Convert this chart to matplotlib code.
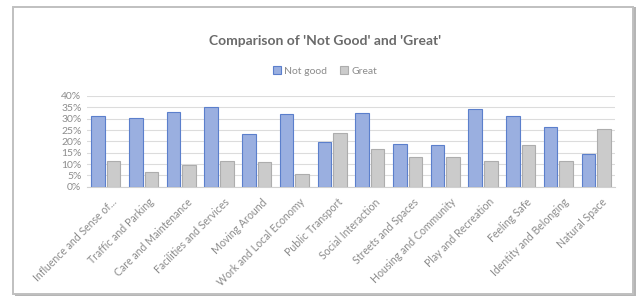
import numpy as np
import matplotlib
matplotlib.use("Agg")
import matplotlib.pyplot as plt
from matplotlib.patches import Rectangle
from matplotlib.transforms import ScaledTranslation

# data (fractions)
categories = ["Influence and Sense of...", "Traffic and Parking", "Care and Maintenance",
              "Facilities and Services", "Moving Around", "Work and Local Economy",
              "Public Transport", "Social Interaction", "Streets and Spaces",
              "Housing and Community", "Play and Recreation", "Feeling Safe",
              "Identity and Belonging", "Natural Space"]
not_good = [0.313, 0.303, 0.330, 0.351, 0.232, 0.319, 0.196, 0.325, 0.187,
            0.186, 0.344, 0.313, 0.263, 0.144]
great = [0.112, 0.066, 0.094, 0.112, 0.107, 0.057, 0.238, 0.165, 0.129,
         0.130, 0.112, 0.186, 0.112, 0.255]
yticks = [0, 0.05, 0.10, 0.15, 0.20, 0.25, 0.30, 0.35, 0.40]

plt.rcParams['font.family'] = ['Lato', 'DejaVu Sans']

fig = plt.figure(figsize=(6.39, 3.0), dpi=100)
W, H = 639, 300

# framed panel with a soft shadow
fig.patches.append(Rectangle((15 / W, 4 / H), 621 / W, 289 / H, transform=fig.transFigure,
                             facecolor="#B5B5B5", edgecolor="none", zorder=0))
fig.patches.append(Rectangle((13 / W, 6 / H), 620 / W, 287 / H, transform=fig.transFigure,
                             facecolor="white", edgecolor="#C0C0C0", lw=1.4, zorder=1))

ax = fig.add_axes([87 / W, 1 - 186.7 / H, 528 / W, 90.7 / H])
ax.set_zorder(2)
ax.patch.set_alpha(0)

x = np.arange(len(categories))
w = 0.36
ax.bar(x - w / 2 - 0.025, not_good, w, color="#9AAFE0", edgecolor="#5B7FCC", lw=0.8,
       label="Not good", zorder=3)
ax.bar(x + w / 2 + 0.025, great, w, color="#CBCBCB", edgecolor="#ADADAD", lw=0.8,
       label="Great", zorder=3)

ax.set_ylim(0, 0.4)
ax.set_xlim(-0.5, len(categories) - 0.5)
ax.set_yticks(yticks)
ax.set_yticklabels([f"{int(round(t * 100))}%" for t in yticks])
ax.yaxis.grid(True, color="#DCDCDC", lw=0.8, zorder=0)
ax.set_axisbelow(True)
for s in ["top", "right", "left"]:
    ax.spines[s].set_visible(False)
ax.spines["bottom"].set_color("#D0D0D0")
ax.tick_params(axis="both", length=0, colors="#8C8C8C", labelsize=7.5)
ax.tick_params(axis="y", pad=4)
ax.tick_params(axis="x", pad=7)
ax.set_xticks(x)
ax.set_xticklabels(categories, rotation=45, ha="right", rotation_mode="anchor",
                   fontsize=7.6, color="#8C8C8C")
# excel puts the end of each slanted label a bit right of the group centre
shift = ScaledTranslation(5 / 100, 0, fig.dpi_scale_trans)
for lab in ax.get_xticklabels():
    lab.set_transform(lab.get_transform() + shift)

fig.text(325 / W, 1 - 41 / H, "Comparison of 'Not Good' and 'Great'", ha="center", va="center",
         fontsize=10, color="#6A6A6A", fontweight="bold")
fig.legend(loc="center", bbox_to_anchor=(325 / W, 1 - 71 / H), ncol=2, frameon=False,
           fontsize=7.5, labelcolor="#8C8C8C", handlelength=0.8, handleheight=0.8,
           handletextpad=0.3, columnspacing=1.2)

fig.savefig("out.png", dpi=100)
